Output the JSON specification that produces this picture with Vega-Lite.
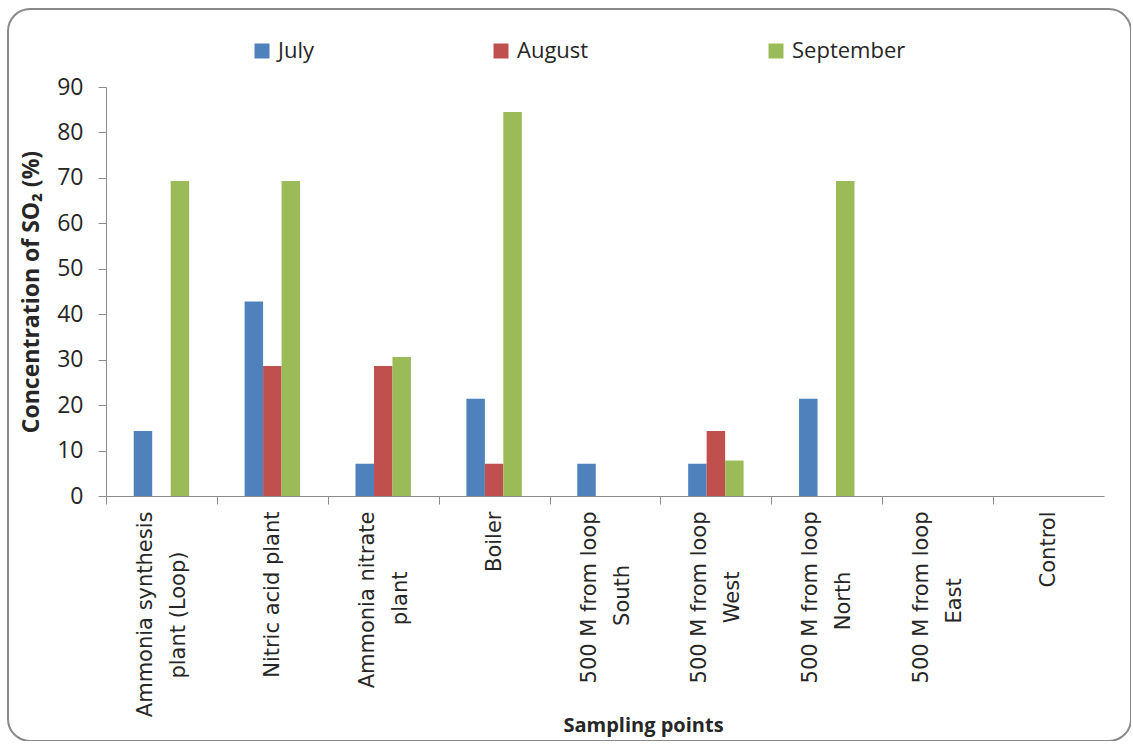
{
  "$schema": "https://vega.github.io/schema/vega-lite/v6.json",
  "autosize": {"type": "none"},
  "padding": {"left": 8, "top": 9, "right": 0, "bottom": 0},
  "width": 1123,
  "height": 732,
  "background": "#ffffff",
  "config": {
    "view": {"stroke": "#8a8a8a", "strokeWidth": 2, "cornerRadius": 22, "fill": "#ffffff"},
    "axis": {
      "domainColor": "#8c8c8c",
      "tickColor": "#8c8c8c",
      "grid": false,
      "labelColor": "#262626",
      "titleColor": "#262626"
    }
  },
  "data": {
    "values": [
      {"site": "Ammonia synthesis\nplant (Loop)", "month": "July", "so2": 14.3},
      {"site": "Ammonia synthesis\nplant (Loop)", "month": "August", "so2": 0},
      {"site": "Ammonia synthesis\nplant (Loop)", "month": "September", "so2": 69.3},
      {"site": "Nitric acid plant", "month": "July", "so2": 42.8},
      {"site": "Nitric acid plant", "month": "August", "so2": 28.6},
      {"site": "Nitric acid plant", "month": "September", "so2": 69.3},
      {"site": "Ammonia nitrate\nplant", "month": "July", "so2": 7.1},
      {"site": "Ammonia nitrate\nplant", "month": "August", "so2": 28.6},
      {"site": "Ammonia nitrate\nplant", "month": "September", "so2": 30.6},
      {"site": "Boiler", "month": "July", "so2": 21.4},
      {"site": "Boiler", "month": "August", "so2": 7.1},
      {"site": "Boiler", "month": "September", "so2": 84.5},
      {"site": "500 M from loop\nSouth", "month": "July", "so2": 7.1},
      {"site": "500 M from loop\nSouth", "month": "August", "so2": 0},
      {"site": "500 M from loop\nSouth", "month": "September", "so2": 0},
      {"site": "500 M from loop\nWest", "month": "July", "so2": 7.1},
      {"site": "500 M from loop\nWest", "month": "August", "so2": 14.3},
      {"site": "500 M from loop\nWest", "month": "September", "so2": 7.8},
      {"site": "500 M from loop\nNorth", "month": "July", "so2": 21.4},
      {"site": "500 M from loop\nNorth", "month": "August", "so2": 0},
      {"site": "500 M from loop\nNorth", "month": "September", "so2": 69.3},
      {"site": "500 M from loop\nEast", "month": "July", "so2": 0},
      {"site": "500 M from loop\nEast", "month": "August", "so2": 0},
      {"site": "500 M from loop\nEast", "month": "September", "so2": 0},
      {"site": "Control", "month": "July", "so2": 0},
      {"site": "Control", "month": "August", "so2": 0},
      {"site": "Control", "month": "September", "so2": 0}
    ]
  },
  "mark": {"type": "bar"},
  "encoding": {
    "x": {
      "field": "site",
      "type": "nominal",
      "sort": null,
      "scale": {"range": [98, 1096], "paddingInner": 0.5, "paddingOuter": 0.25},
      "axis": {
        "title": "Sampling points",
        "titleFont": "Open Sans",
        "titleFontSize": 20,
        "titleFontWeight": "bold",
        "titleX": 635,
        "titleY": 229,
        "titleBaseline": "middle",
        "offset": -245,
        "tickSize": 8,
        "tickOffset": -55.45,
        "labelOffset": 55.45,
        "labelAngle": -90,
        "labelAlign": "right",
        "labelBaseline": {
          "condition": {"test": "indexof(datum.value, '\\n') >= 0", "value": "line-bottom"},
          "value": "middle"
        },
        "labelFont": "DejaVu Sans",
        "labelFontSize": 21,
        "labelLineHeight": 33,
        "labelLimit": 400,
        "labelPadding": 7,
        "labelExpr": "indexof(datum.label, '\\n') < 0 ? datum.label : [split(datum.label, '\\n')[0], split(datum.label, '\\n')[1] + pad('', indexof(datum.label, 'synthesis') >= 0 ? 6 : indexof(datum.label, 'South') >= 0 ? 8 : indexof(datum.label, 'East') >= 0 ? 10 : 9, '\u00a0') + '\u200b']"
      }
    },
    "xOffset": {"field": "month", "type": "nominal", "sort": ["July", "August", "September"]},
    "y": {
      "field": "so2",
      "type": "quantitative",
      "scale": {"domain": [0, 90], "nice": false, "range": [487, 78]},
      "axis": {
        "title": "Concentration of SO₂ (%)",
        "titleFont": "Open Sans",
        "titleFontSize": 23,
        "titleFontWeight": "bold",
        "titlePadding": 13,
        "offset": -98,
        "values": [0, 10, 20, 30, 40, 50, 60, 70, 80, 90],
        "tickSize": 8,
        "labelFont": "Open Sans",
        "labelFontSize": 23,
        "labelPadding": 15
      }
    },
    "color": {
      "field": "month",
      "type": "nominal",
      "sort": ["July", "August", "September"],
      "scale": {"domain": ["July", "August", "September"], "range": ["#4f81bd", "#c0504d", "#9bbb59"]},
      "legend": {
        "title": null,
        "orient": "none",
        "direction": "horizontal",
        "legendX": 243,
        "legendY": 31,
        "symbolType": "square",
        "symbolSize": 225,
        "symbolStrokeWidth": 0,
        "symbolOpacity": 1,
        "labelFont": "Open Sans",
        "labelFontSize": 22,
        "labelColor": "#262626",
        "labelOffset": 5,
        "columnPadding": 176
      }
    }
  }
}
